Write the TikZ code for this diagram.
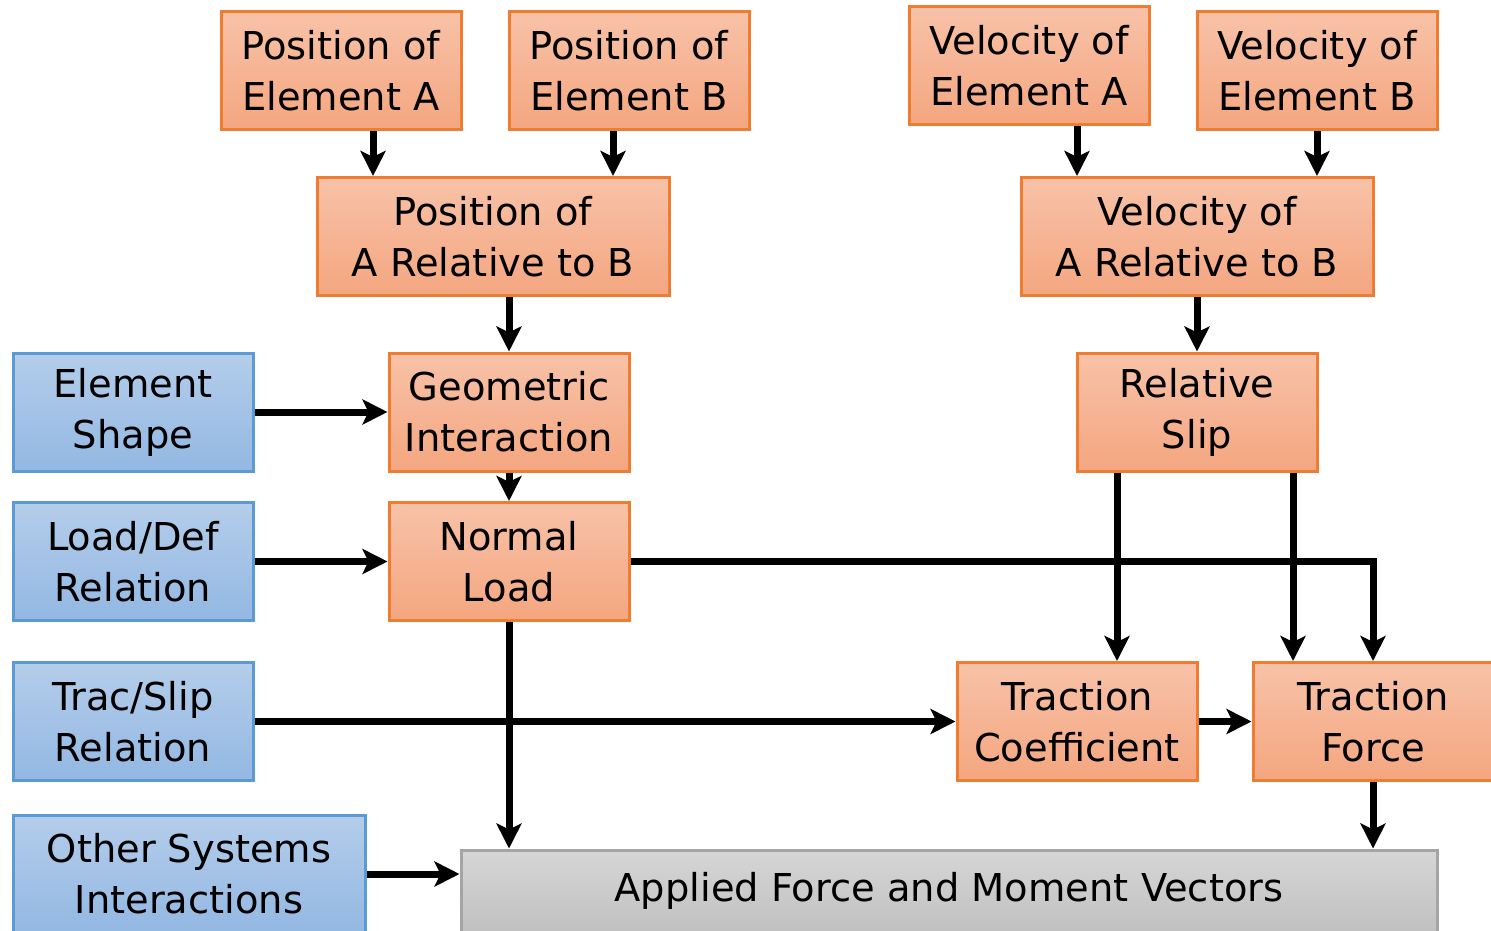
\documentclass[tikz,border=0pt]{standalone}
\usepackage{fontspec}
\setmainfont{DejaVu Sans}
\usetikzlibrary{arrows.meta}
\definecolor{orfillT}{HTML}{F8C2A8}
\definecolor{orfillB}{HTML}{F4A680}
\definecolor{ordraw}{HTML}{ED7D31}
\definecolor{blfillT}{HTML}{B4CDEA}
\definecolor{blfillB}{HTML}{93B8E3}
\definecolor{bldraw}{HTML}{5B9BD5}
\definecolor{gyfillT}{HTML}{D6D6D6}
\definecolor{gyfillB}{HTML}{BFBFBF}
\definecolor{gydraw}{HTML}{A5A5A5}
\tikzset{
  box/.style={rectangle, line width=1.5pt, align=center, inner sep=0pt,
    minimum width=120pt, minimum height=59pt,
    font=\fontsize{19.2}{25.5}\selectfont},
  orbox/.style={box, draw=ordraw, top color=orfillT, bottom color=orfillB},
  blbox/.style={box, draw=bldraw, top color=blfillT, bottom color=blfillB},
  gybox/.style={box, draw=gydraw, top color=gyfillT, bottom color=gyfillB},
  arr/.style={line width=3.5pt, -{Stealth[length=12.5pt,width=12.5pt,inset=3pt]}}
}
\begin{document}
\begin{tikzpicture}[x=0.5pt,y=-0.5pt]
\clip (0,0) rectangle (1491,930);
\fill[white] (0,0) rectangle (1491,930);

% inputs (orange)
\node[orbox] (PosA) at (341,71) {Position of\\Element A};
\node[orbox] (PosB) at (629,71) {Position of\\Element B};
\node[orbox] (VelA) at (1029,66) {Velocity of\\Element A};
\node[orbox] (VelB) at (1317,71) {Velocity of\\Element B};
\node[orbox, minimum width=176pt] (PosRel) at (493,236.5) {Position of\\A Relative to B};
\node[orbox, minimum width=176pt] (VelRel) at (1197,236.5) {Velocity of\\A Relative to B};
\node[orbox] (Geom) at (509,412) {Geometric\\Interaction};
\node[orbox] (Slip) at (1197,412) {Relative\\Slip};
\node[orbox] (Normal) at (509,561.5) {Normal\\Load};
\node[orbox] (TCoef) at (1077,721.5) {Traction\\Coefficient};
\node[orbox] (TForce) at (1373,721.5) {Traction\\Force};

% model relations (blue)
\node[blbox] (Shape) at (133,412) {Element\\Shape};
\node[blbox] (LoadDef) at (133,561.5) {Load/Def\\Relation};
\node[blbox] (TracSlip) at (133,721.5) {Trac/Slip\\Relation};
\node[blbox, minimum width=176pt] (Other) at (189,874) {Other Systems\\Interactions};

% output (grey)
\node[gybox, minimum width=488pt, minimum height=44pt, text height=15pt, text depth=8pt] (Applied) at (949,894) {Applied Force and Moment Vectors};

% x positions of the vertical connectors
\coordinate (xPA) at (373,0);
\coordinate (xPB) at (613,0);
\coordinate (xVA) at (1077,0);
\coordinate (xVB) at (1317,0);
\coordinate (xSC) at (1117,0);
\coordinate (xSF) at (1293,0);

\draw[arr] (PosA.south -| xPA) -- (PosRel.north -| xPA);
\draw[arr] (PosB.south -| xPB) -- (PosRel.north -| xPB);
\draw[arr] (VelA.south -| xVA) -- (VelRel.north -| xVA);
\draw[arr] (VelB.south -| xVB) -- (VelRel.north -| xVB);
\draw[arr] (PosRel.south -| Geom.north) -- (Geom.north);
\draw[arr] (VelRel.south) -- (Slip.north);
\draw[arr] (Shape.east) -- (Geom.west);
\draw[arr] (Geom.south) -- (Normal.north);
\draw[arr] (LoadDef.east) -- (Normal.west);
\draw[arr] (Normal.east) -| (TForce.north);
\draw[arr] (Normal.south) -- (Normal.south |- Applied.north);
\draw[arr] (Slip.south -| xSC) -- (TCoef.north -| xSC);
\draw[arr] (Slip.south -| xSF) -- (TForce.north -| xSF);
\draw[arr] (TracSlip.east) -- (TCoef.west);
\draw[arr] (TCoef.east) -- (TForce.west);
\draw[arr] (TForce.south) -- (TForce.south |- Applied.north);
\draw[arr] (Other.east) -- (Other.east -| Applied.west);
\end{tikzpicture}
\end{document}
